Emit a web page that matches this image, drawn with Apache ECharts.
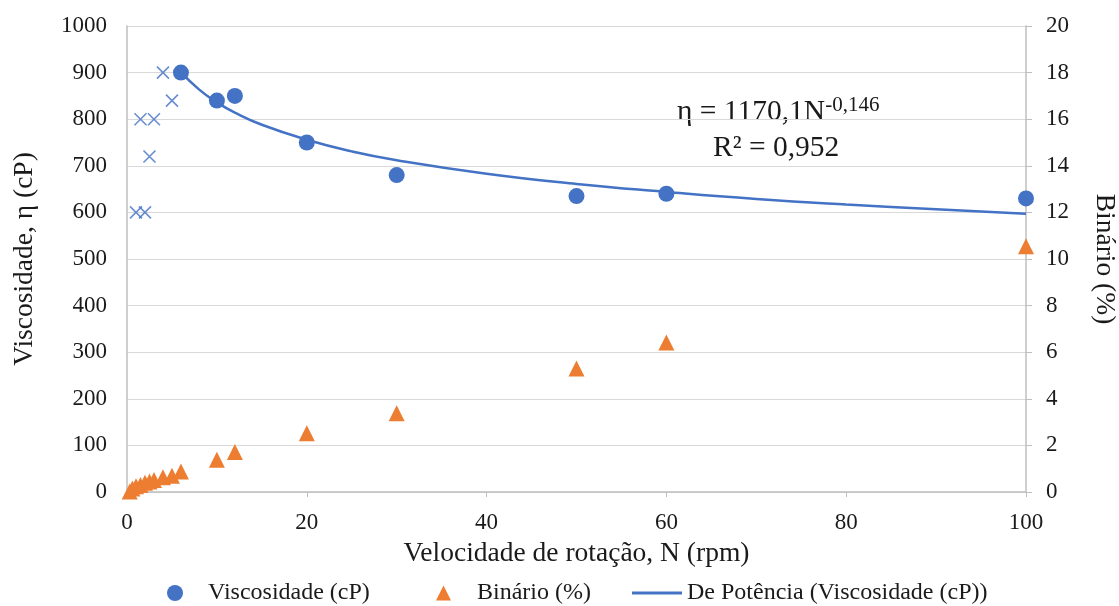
<!DOCTYPE html>
<html>
<head>
<meta charset="utf-8">
<script src="https://cdn.jsdelivr.net/npm/echarts@6/dist/echarts.min.js"></script>
<style>
  html, body { margin: 0; padding: 0; background: #fff; }
  #chart { width: 1119px; height: 606px; }
</style>
</head>
<body>
<div id="chart"></div>
<script>
// Viscosidade (cP) - pontos usados no ajuste
var visc_x = [6, 10, 12, 20, 30, 50, 60, 100];
var visc_y = [900, 840, 850, 750, 680, 635, 640, 630];

// pontos excluidos (cruzes)
var excl_x = [1, 2, 1.5, 3, 2.5, 4, 5];
var excl_y = [600, 600, 800, 800, 720, 900, 840];

// Binário (%)
var bin_x = [0.3, 0.6, 1, 1.5, 2, 2.5, 3, 4, 5, 6, 10, 12, 20, 30, 50, 60, 100];
var bin_y = [0.02, 0.15, 0.25, 0.3, 0.4, 0.45, 0.52, 0.63, 0.7, 0.88, 1.38, 1.72, 2.52, 3.38, 5.3, 6.42, 10.55];

// linha de tendência
var trend_x = [6, 8, 10, 12, 15, 20, 25, 30, 40, 50, 60, 70, 80, 90, 100];
var trend_y = [901, 864, 836, 814, 788, 756, 731, 712, 683, 661, 644, 629, 617, 607, 597];

function pairs(xs, ys) {
	var out = [];
	for (let i = 0; i < xs.length; i++) {
		out.push([xs[i], ys[i]]);
	}
	return out;
}

var blue = '#4472C4';
var orange = '#ED7D31';
var font = 'Liberation Serif';
var txt = '#1a1a1a';

var chartDom = document.getElementById('chart');
var myChart = echarts.init(chartDom);
var option;

option = {
	animation: false,
	textStyle: { fontFamily: font },
	grid: {
		left: 127,
		right: 93,
		top: 26,
		bottom: 114,
		outerBoundsMode: 'none'
	},
	xAxis: {
		type: 'value',
		min: 0,
		max: 100,
		interval: 20,
		name: 'Velocidade de rotação, N (rpm)',
		nameLocation: 'middle',
		nameGap: 48,
		nameTextStyle: { fontFamily: font, fontSize: 27.5, color: txt },
		axisLine: { show: true, lineStyle: { color: '#bfbfbf', width: 1.5 } },
		axisTick: { show: true, length: 5, lineStyle: { color: '#bfbfbf' } },
		splitLine: { show: false },
		axisLabel: { fontFamily: font, fontSize: 23, color: txt, margin: 19 }
	},
	yAxis: [
		{
			type: 'value',
			min: 0,
			max: 1000,
			interval: 100,
			name: 'Viscosidade, η (cP)',
			nameLocation: 'middle',
			nameGap: 88,
			nameTextStyle: { fontFamily: font, fontSize: 27.5, color: txt },
			axisLine: { show: true, lineStyle: { color: '#bfbfbf', width: 1.5 } },
			axisTick: { show: false },
			splitLine: { show: true, lineStyle: { color: '#d9d9d9', width: 1.2 } },
			axisLabel: {
				fontFamily: font, fontSize: 23, color: txt, margin: 20,
				formatter: function (v) { return String(v); }
			}
		},
		{
			type: 'value',
			min: 0,
			max: 20,
			interval: 2,
			position: 'right',
			name: 'Binário (%)',
			nameLocation: 'middle',
			nameGap: 64,
			nameRotate: -90,
			nameTextStyle: { fontFamily: font, fontSize: 27.5, color: txt },
			axisLine: { show: true, lineStyle: { color: '#bfbfbf', width: 1.5 } },
			axisTick: { show: true, length: 6, lineStyle: { color: '#bfbfbf' } },
			splitLine: { show: false },
			axisLabel: { fontFamily: font, fontSize: 23, color: txt, margin: 20 }
		}
	],
	legend: [
		{
			left: 162, top: 576,
			itemWidth: 16, itemHeight: 16,
			textStyle: { fontFamily: font, fontSize: 24, color: txt, padding: [0, 0, 0, 20] },
			data: [{ name: 'Viscosidade (cP)', icon: 'circle' }]
		},
		{
			left: 431, top: 576,
			itemWidth: 15, itemHeight: 15,
			textStyle: { fontFamily: font, fontSize: 24, color: txt, padding: [0, 0, 0, 21] },
			data: [{ name: 'Binário (%)', icon: 'triangle' }]
		},
		{
			left: 627, top: 576,
			itemWidth: 50, itemHeight: 3,
			textStyle: { fontFamily: font, fontSize: 24, color: txt, padding: [0, 0, 0, 0] },
			data: [{ name: 'De Potência (Viscosidade (cP))', icon: 'rect' }]
		}
	],
	graphic: [
		{
			type: 'text',
			left: 677, top: 95,
			style: {
				text: '{b|η = 1170,1N}{s|-0,146}',
				rich: {
					b: { fontFamily: font, fontSize: 29.5, fill: txt },
					s: { fontFamily: font, fontSize: 21, fill: txt, verticalAlign: 'top', padding: [0, 0, 14, 0] }
				}
			}
		},
		{
			type: 'text',
			left: 713, top: 133,
			style: { text: 'R² = 0,952', fontFamily: font, fontSize: 29.5, fill: txt }
		}
	],
	series: [
		{
			name: 'De Potência (Viscosidade (cP))',
			type: 'line',
			yAxisIndex: 0,
			data: pairs(trend_x, trend_y),
			smooth: true,
			symbol: 'none',
			lineStyle: { color: blue, width: 2.5 },
			itemStyle: { color: blue },
			z: 2
		},
		{
			name: 'Excluídos',
			type: 'scatter',
			yAxisIndex: 0,
			data: pairs(excl_x, excl_y),
			symbol: 'path://M0,0L10,10M10,0L0,10',
			symbolSize: 12,
			itemStyle: { color: 'transparent', borderColor: blue, borderWidth: 1.6 },
			z: 3
		},
		{
			name: 'Viscosidade (cP)',
			type: 'scatter',
			yAxisIndex: 0,
			data: pairs(visc_x, visc_y),
			symbol: 'circle',
			symbolSize: 16,
			itemStyle: { color: blue, opacity: 1 },
			z: 4
		},
		{
			name: 'Binário (%)',
			type: 'scatter',
			yAxisIndex: 1,
			data: pairs(bin_x, bin_y),
			symbol: 'triangle',
			symbolSize: 16,
			itemStyle: { color: orange, opacity: 1 },
			z: 4
		}
	]
};

option && myChart.setOption(option);
</script>
</body>
</html>
